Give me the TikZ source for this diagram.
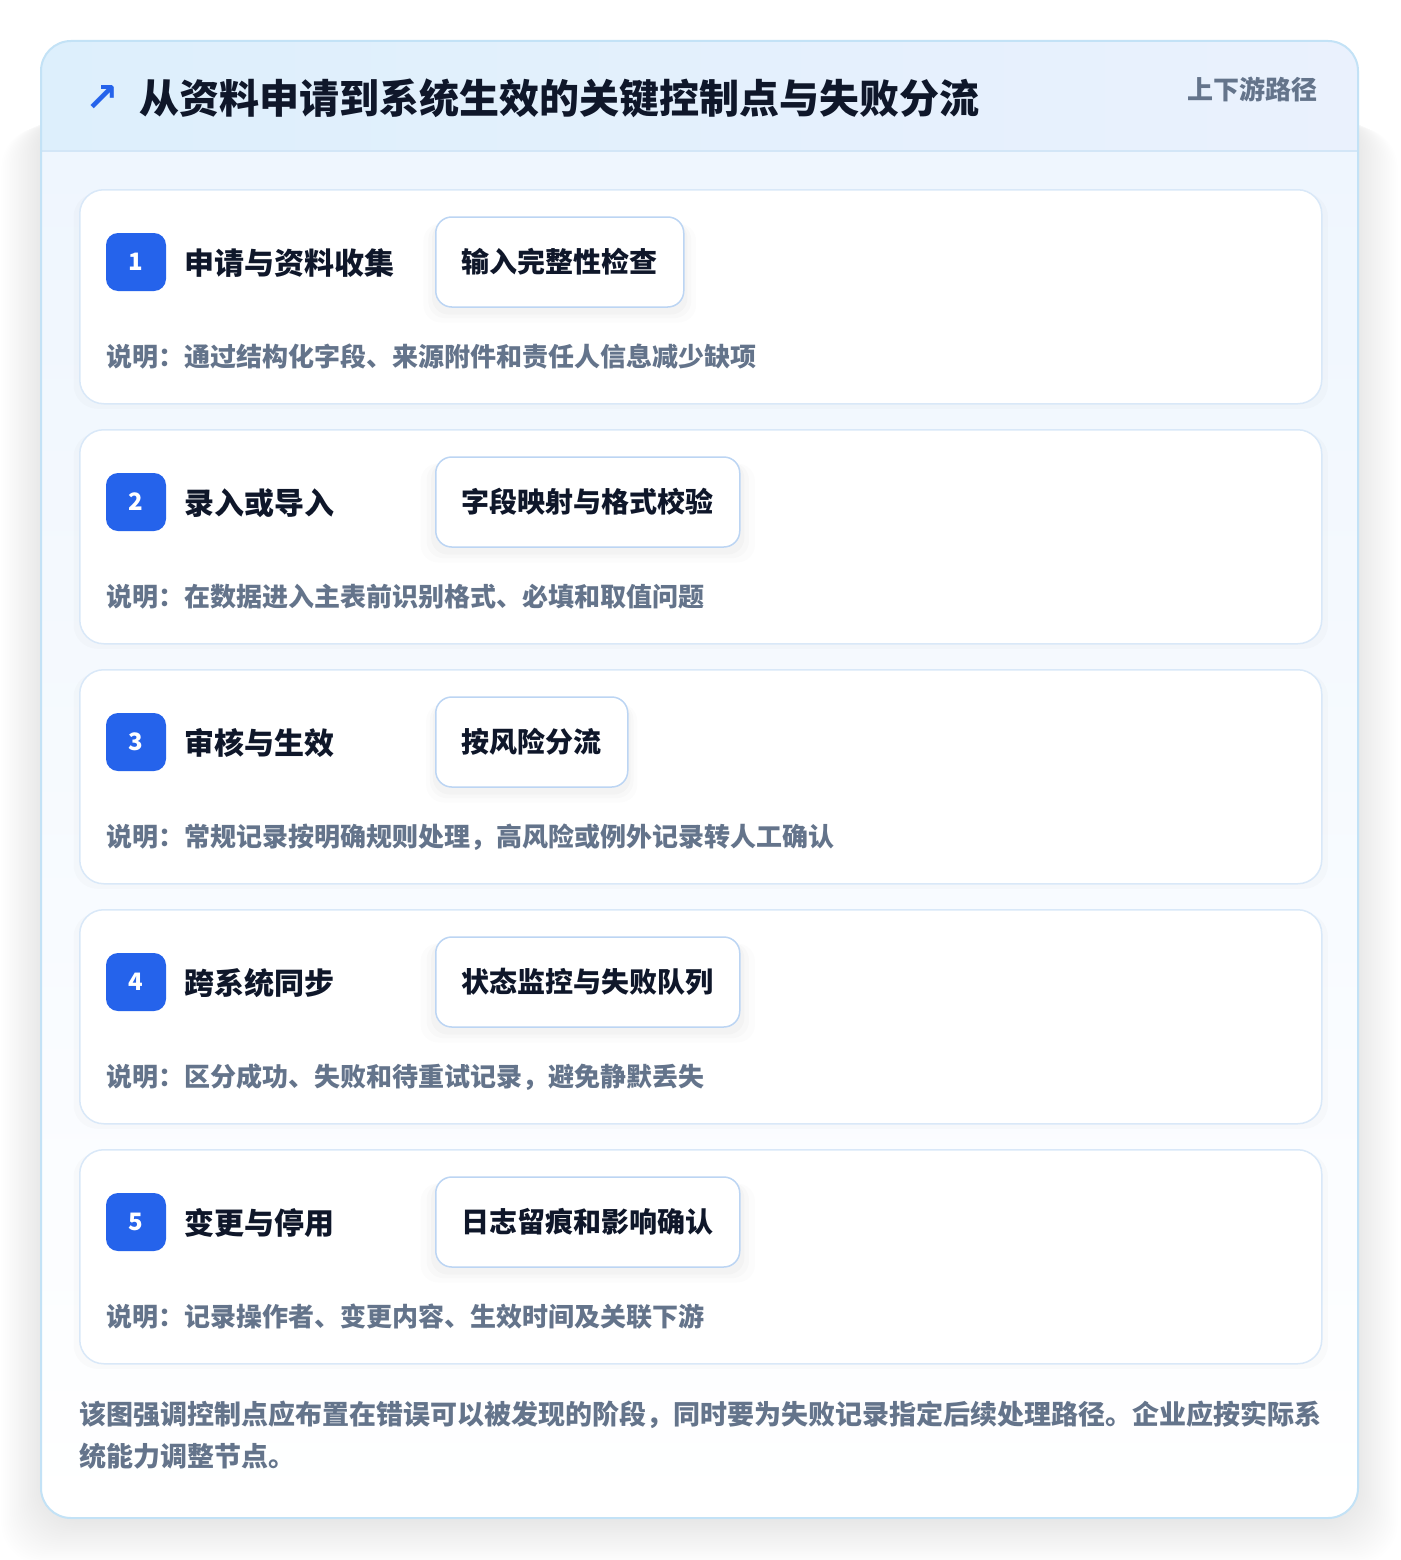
\documentclass[tikz,border=0pt]{standalone}
\usepackage{fontspec}
\setmainfont{Noto Sans CJK SC}
\newfontfamily\symfont{DejaVu Sans}
\usetikzlibrary{shadows}
\definecolor{outerborder}{HTML}{C3E2F6}
\definecolor{headl}{HTML}{DDEFFC}
\definecolor{headr}{HTML}{EAF1FD}
\definecolor{headsep}{HTML}{D3E6F7}
\definecolor{bodytop}{HTML}{EFF6FE}
\definecolor{cardborder}{HTML}{D9E8F8}
\definecolor{ctrlborder}{HTML}{BCD5F3}
\definecolor{badgeblue}{HTML}{2563EB}
\definecolor{darktext}{HTML}{0F172A}
\definecolor{greytext}{HTML}{64748B}
\tikzset{
  card/.style={draw=cardborder, line width=1.5pt, fill=white, rounded corners=24pt,
    minimum width=1242pt, minimum height=214pt, inner sep=0pt,
    drop shadow={shadow xshift=0pt, shadow yshift=-4pt, opacity=0.015, fill=black, shadow scale=1.01}},
  badge/.style={fill=badgeblue, rounded corners=12pt, minimum width=60pt, minimum height=58pt,
    inner sep=0pt, text=white, font=\fontsize{24}{28}\selectfont\bfseries},
  steptitle/.style={inner sep=0pt, text=darktext, font=\fontsize{30}{36}\selectfont\bfseries},
  ctrlbox/.style={draw=ctrlborder, line width=1.5pt, fill=white, rounded corners=16pt,
    minimum height=90pt, inner xsep=26pt, inner ysep=0pt, text=darktext,
    font=\fontsize{28}{34}\selectfont\bfseries,
    drop shadow={shadow xshift=0pt, shadow yshift=-10pt, opacity=0.012, fill=black, shadow scale=1.10},
    drop shadow={shadow xshift=0pt, shadow yshift=-8pt, opacity=0.015, fill=black, shadow scale=1.06},
    drop shadow={shadow xshift=0pt, shadow yshift=-6pt, opacity=0.018, fill=black, shadow scale=1.03}},
  desc/.style={inner sep=0pt, text=greytext, font=\fontsize{26}{32}\selectfont\bfseries},
  foot/.style={inner sep=0pt, text=greytext, font=\fontsize{27}{32}\selectfont\bfseries},
}
\begin{document}
\begin{tikzpicture}[x=1pt,y=-1pt]
\useasboundingbox (0,0) rectangle (1400,1560);
\fill[white] (0,0) rectangle (1400,1560);
% outer shadow
\foreach \i in {0,...,22} {
  \fill[black, opacity=0.0028, rounded corners=40pt]
    (41-\i*1.8, 110+\i*0.8) rectangle (1358+\i*1.8, 1522+\i*1.9);
}
% outer card
\begin{scope}
  \clip[rounded corners=30pt] (41,41) rectangle (1358,1518);
  \shade[top color=bodytop, bottom color=white] (41,151) rectangle (1358,1518);
  \shade[left color=headl, right color=headr] (41,41) rectangle (1358,151);
  \draw[headsep, line width=1.5pt] (41,151) -- (1358,151);
\end{scope}
\draw[outerborder, line width=2pt, rounded corners=30pt] (41,41) rectangle (1358,1518);
% header
\node[inner sep=0pt, text=badgeblue, font=\symfont\bfseries\fontsize{40}{46}\selectfont, anchor=center] (icon) at (102,99) {↗};
\node[inner sep=0pt, text=darktext, font=\fontsize{40}{48}\selectfont\bfseries, anchor=west] (title) at (139,98) {从资料申请到系统生效的关键控制点与失败分流};
\node[inner sep=0pt, text=greytext, font=\fontsize{26}{32}\selectfont\bfseries, anchor=east] (tag) at (1318,89) {上下游路径};
% steps
\foreach \n/\t/\c/\d in {
  1/申请与资料收集/输入完整性检查/通过结构化字段、来源附件和责任人信息减少缺项,
  2/录入或导入/字段映射与格式校验/在数据进入主表前识别格式、必填和取值问题,
  3/审核与生效/按风险分流/常规记录按明确规则处理，高风险或例外记录转人工确认,
  4/跨系统同步/状态监控与失败队列/区分成功、失败和待重试记录，避免静默丢失,
  5/变更与停用/日志留痕和影响确认/记录操作者、变更内容、生效时间及关联下游}
{
  \pgfmathsetmacro\yy{189+(\n-1)*240}
  \node[card, anchor=north west] (card\n) at (79,\yy) {};
  \node[badge] (badge\n) at (136,\yy+73) {\n};
  \node[steptitle, anchor=west] (stitle\n) at (184,\yy+74) {\t};
  \node[ctrlbox, anchor=west] (ctrl\n) at (435,\yy+73) {\c};
  \node[desc, anchor=west] (desc\n) at (106,\yy+168) {说明：\d};
}
% footer
\node[foot, anchor=west] (foot1) at (79,1415) {该图强调控制点应布置在错误可以被发现的阶段，同时要为失败记录指定后续处理路径。企业应按实际系};
\node[foot, anchor=west] (foot2) at (79,1456) {统能力调整节点。};
\end{tikzpicture}
\end{document}
